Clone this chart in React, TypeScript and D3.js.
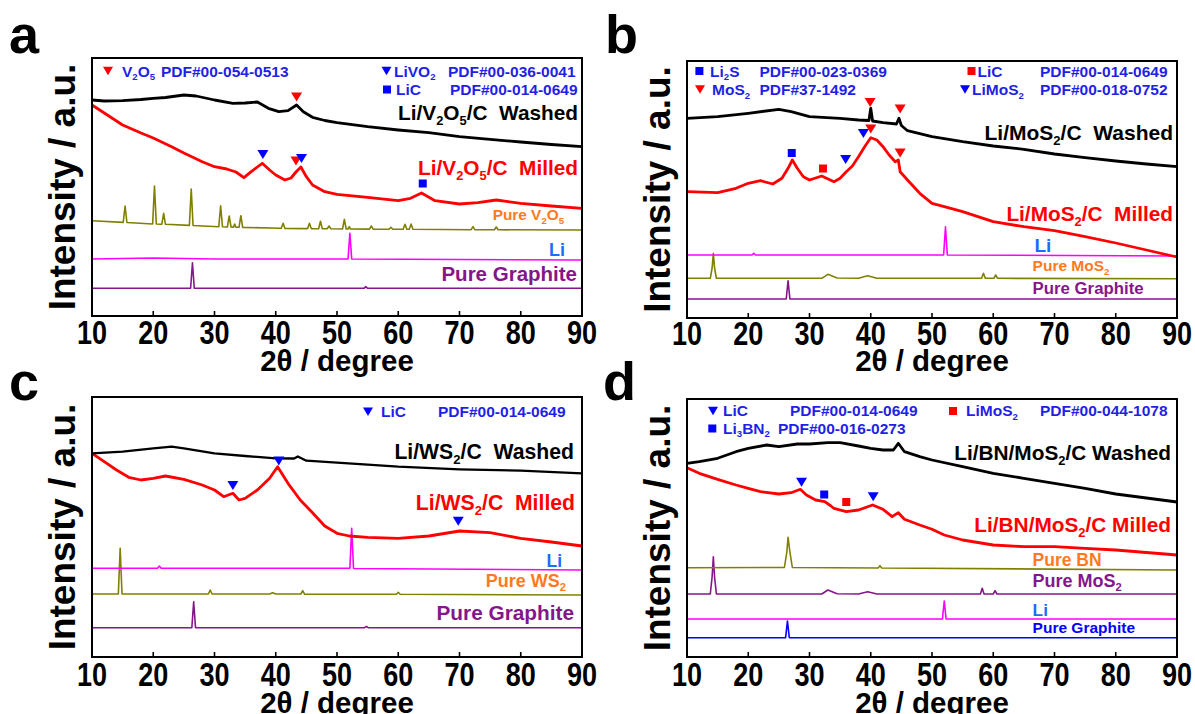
import React from 'react';
import * as d3 from 'd3';

type Pt = [number, number];

const X_TICKS = [10, 20, 30, 40, 50, 60, 70, 80, 90];

// ---------------- Panel a : Li/V2O5/C ----------------
const A_WASHED: Pt[] = [[10,216],[12,215],[15,215.3],[18,216.5],[20,217.7],[22,218.5],[25,221],[27,220],[28.5,218],[30,216],[33,212.7],[35,213],[37,214],[38.8,207.7],[40.5,204.3],[42,205.3],[43.4,211],[44.5,204.3],[46,198.7],[48,195.5],[50,193.3],[55,189.3],[60,186],[65,183.3],[70,179.3],[75,176.7],[80,174],[85,171.5],[90,169.3]];
const A_MILLED: Pt[] = [[10,211],[12,203],[15,191],[18,183],[20,178],[23,169.3],[25,163],[28,154.3],[30,149.3],[32,147],[33.5,144],[34.8,138.3],[36,144.3],[37,149],[37.8,152.7],[39,146],[40,141],[41.5,136],[42.5,138],[43.3,144],[44.1,149],[45,139.3],[46,131],[48,124.3],[50,121.7],[55,118.7],[60,115.3],[62,117.7],[63.8,123],[66,115.3],[70,112],[73,113.3],[76,116],[80,112.7],[85,110],[90,107.7]];
const A_V2O5: Pt[] = [[10,95.3],[15.1,93.6],[15.4,110],[15.7,93.5],[19.9,92],[20.2,130],[20.5,92],[21.4,91.8],[21.7,102.7],[22,91.7],[25.9,90.6],[26.2,127],[26.5,90.5],[30.7,89.3],[31,110.3],[31.3,89.2],[32.1,89],[32.4,100],[32.7,89],[33.1,88.9],[33.3,92],[33.5,88.8],[34,88.7],[34.3,100.3],[34.6,88.6],[40.9,87.7],[41.2,92.7],[41.5,87.6],[45.2,87.4],[45.5,92.7],[45.8,87.4],[47,87.3],[47.3,94.7],[47.6,87.3],[48.4,87.2],[48.7,90],[49,87.2],[50.9,87],[51.2,96.7],[51.5,87],[51.8,87],[52,89.3],[52.2,87],[55.3,86.9],[55.6,90],[55.9,86.9],[58.5,86.8],[58.8,88.7],[59.1,86.8],[60.8,86.7],[61.1,91.7],[61.4,86.7],[61.8,86.7],[62.1,92],[62.4,86.7],[71.9,86.3],[72.2,89.3],[72.5,86.3],[75.7,86.2],[76,89],[76.3,86.2],[90,86]];
const A_LI: Pt[] = [[10,57],[20,58],[30,57],[51.8,57],[52.1,82.7],[52.4,57],[70,56.5],[90,56]];
const A_GRAPHITE: Pt[] = [[10,27.7],[26.1,27.7],[26.4,53.3],[26.7,27.7],[54.4,27.7],[54.7,29.3],[55,27.7],[90,27.7]];
const A_MARKS = [
  { phase: 'V2O5', x: 43.4, y: 219 },
  { phase: 'LiVO2', x: 37.9, y: 161.5 },
  { phase: 'V2O5', x: 43.3, y: 155 },
  { phase: 'LiVO2', x: 44.2, y: 157.5 },
  { phase: 'LiC', x: 64, y: 132.5 },
];

// ---------------- Panel b : Li/MoS2/C ----------------
const B_WASHED: Pt[] = [[10,199.7],[15,201.3],[20,204.7],[25,208.7],[27,206.3],[30,201.3],[35,199.7],[38,198],[39.7,197.5],[40,209.7],[40.3,197],[42,195.3],[44.2,194],[44.6,199.7],[45,192.5],[46,187.3],[50,181.3],[55,176.3],[60,172],[65,168.7],[70,164],[75,160.3],[80,157],[85,154],[90,151.3]];
const B_MILLED: Pt[] = [[10,126.3],[15,125.3],[18,129.7],[20,134.7],[22,137.3],[24,134],[25.5,139.7],[26.5,149.7],[27.2,158],[28,149.7],[29,141.3],[30,138],[32,142],[34,136.3],[35,139.7],[36,146.3],[37,152],[38,161.3],[39,171.3],[40,180.3],[41,178],[42,171.3],[43,163],[44,156.3],[44.5,158],[44.8,146.3],[46,138],[48,124.7],[50,114.7],[52,111.3],[55,106.3],[60,96.3],[65,91.3],[70,87.3],[75,81.3],[80,75],[85,68],[90,61]];
const B_LI: Pt[] = [[10,63],[20.6,63],[20.9,64.7],[21.2,63],[51.9,63],[52.2,91.3],[52.5,63],[90,62]];
const B_MOS2: Pt[] = [[10,39.7],[13.8,39.7],[14.1,50],[14.3,64.7],[14.5,50],[14.8,39.7],[32,39.7],[33,43.7],[34.5,40],[38,39.7],[39.5,42.3],[41,39.7],[58.1,39.7],[58.4,44.7],[58.7,39.7],[60.1,39.7],[60.4,43],[60.7,39.7],[90,39.3]];
const B_GRAPHITE: Pt[] = [[10,19],[26.2,19],[26.5,37.3],[26.8,19],[90,19]];
const B_MARKS = [
  { phase: 'MoS2', x: 39.9, y: 215.5 },
  { phase: 'MoS2', x: 44.8, y: 209 },
  { phase: 'LiMoS2', x: 38.8, y: 184.5 },
  { phase: 'MoS2', x: 40.0, y: 189 },
  { phase: 'MoS2', x: 44.8, y: 165 },
  { phase: 'Li2S', x: 27.1, y: 165 },
  { phase: 'LiC', x: 32.2, y: 149.5 },
  { phase: 'LiMoS2', x: 35.9, y: 158.5 },
];

// ---------------- Panel c : Li/WS2/C ----------------
const C_WASHED: Pt[] = [[10,203.7],[15,205.3],[20,208.7],[23,210.3],[25,208.7],[30,203.7],[35,201],[40,198.7],[43,198.5],[43.6,200.5],[45,196.3],[50,194.3],[60,190.3],[70,187.7],[80,186.3],[90,183.7]];
const C_MILLED: Pt[] = [[10,203.7],[12,195.3],[14,187],[16,179.7],[18,177],[20,178.7],[22,181],[25,177.7],[28,172],[30,167],[31.5,160.3],[33,163.7],[34,157],[35,158.7],[37,167],[39,178.7],[40.3,190.3],[42,173.7],[44,157],[46,144.3],[48,131],[50,123.7],[52,121],[55,119.7],[60,118.7],[65,121],[70,126],[75,124.3],[80,118.7],[85,115],[90,111]];
const C_LI: Pt[] = [[10,88.7],[20.7,88.7],[21,91],[21.3,88.7],[52.1,88.7],[52.4,128.7],[52.7,88.5],[90,87]];
const C_WS2: Pt[] = [[10,63],[14.3,63],[14.6,108.7],[14.9,63],[29,63],[29.3,67],[29.6,63],[39,63],[39.5,64.3],[40,63],[44.1,63],[44.4,66.3],[44.7,62.8],[59.7,62.7],[60,64.7],[60.3,62.7],[90,62]];
const C_GRAPHITE: Pt[] = [[10,29.3],[26.3,29.3],[26.6,55.3],[26.9,29.3],[54.5,29.3],[54.8,30.5],[55.1,29.3],[90,29.3]];
const C_MARKS = [
  { phase: 'LiC', x: 40.5, y: 196 },
  { phase: 'LiC', x: 33.0, y: 171.5 },
  { phase: 'LiC', x: 69.8, y: 135.7 },
];

// ---------------- Panel d : Li/BN/MoS2/C ----------------
const D_WASHED: Pt[] = [[10,193.7],[12,195.3],[15,198.7],[18,205.3],[20,208.7],[23,212],[25,210.3],[28,213],[30,213],[33,214.3],[35,214.3],[38,211],[40,208.7],[42,207],[43.7,207],[44.5,213.7],[45.5,205.3],[48,200.3],[50,197],[55,190.3],[60,183.7],[65,178.7],[70,173.7],[75,168.7],[80,163],[85,159],[90,155]];
const D_MILLED: Pt[] = [[10,189.3],[12,183.7],[15,177.7],[18,172],[20,168.7],[22,165.3],[25,163],[27,164.3],[28.5,167.7],[29.5,162],[31,157],[32.5,155.3],[33.5,151],[34,148.7],[36,145.3],[38,147],[40.3,152],[42,147.7],[43.5,140.3],[44.5,144.3],[45.5,137.7],[48,132],[50,127.7],[52,122],[55,117],[60,112],[65,110.3],[70,110.3],[75,108.7],[80,107],[85,104.5],[90,102]];
const D_BN: Pt[] = [[10,89.3],[25.9,89.5],[26.3,105],[26.5,119.7],[26.8,105],[27.2,89.5],[41.2,89],[41.5,91.3],[41.8,89],[90,87]];
const D_MOS2: Pt[] = [[10,63],[13.8,63],[14.1,80],[14.3,100.3],[14.5,80],[14.8,63],[32,63],[33,67],[34.5,63.3],[38,63],[39.5,65.3],[41,63],[57.9,63],[58.2,68.7],[58.5,63],[60,63],[60.3,66.3],[60.6,63],[90,63]];
const D_LI: Pt[] = [[10,38],[51.7,38],[52,56],[52.3,38],[90,38]];
const D_GRAPHITE: Pt[] = [[10,19.3],[26.1,19.3],[26.4,36],[26.7,19.3],[90,19.3]];
const D_MARKS = [
  { phase: 'LiC', x: 28.7, y: 174.7 },
  { phase: 'Li3BN2', x: 32.4, y: 162.5 },
  { phase: 'LiMoS2', x: 36.0, y: 155 },
  { phase: 'LiC', x: 40.4, y: 160.2 },
];

// ---------------- styles ----------------
const RED = '#ff0000';
const BLUE = '#0000ff';
const LEG_BLUE = '#1f1fe8';
const LI_BLUE = '#1e6bff';
const ORANGE = '#ff7a1f';
const PURPLE = '#85168a';
const OLIVE = '#808000';
const MAGENTA = '#ff00ff';
const FONT = '"Liberation Sans", Arial, Helvetica, sans-serif';

type Shape = 'tri' | 'sq';
interface SeriesDef { data: Pt[]; color: string; width: number }
interface LabelDef { t: string; x: number; y: number; s: number; c: string; a: 'start' | 'end' }
interface LegendDef { shape: Shape; color: string; mx: number; my: number; name: string; nx: number; pdf: string; px: number; by: number }
interface PanelDef {
  letter: string; lx: number; ly: number;
  x0: number; x1: number; y0: number; y1: number; yMax: number;
  tickY: number; titleY: number;
  series: SeriesDef[];
  marks: { phase: string; x: number; y: number }[];
  phaseStyle: Record<string, { shape: Shape; color: string }>;
  legend: LegendDef[];
  labels: LabelDef[];
}

const PANELS: PanelDef[] = [
  {
    letter: 'a', lx: 9, ly: 53, x0: 92, x1: 582, y0: 58, y1: 316, yMax: 258, tickY: 344, titleY: 371,
    series: [
      { data: A_GRAPHITE, color: PURPLE, width: 1.6 },
      { data: A_LI, color: MAGENTA, width: 1.6 },
      { data: A_V2O5, color: OLIVE, width: 1.6 },
      { data: A_MILLED, color: RED, width: 2.8 },
      { data: A_WASHED, color: '#000', width: 2.8 },
    ],
    marks: A_MARKS,
    phaseStyle: { V2O5: { shape: 'tri', color: RED }, LiVO2: { shape: 'tri', color: BLUE }, LiC: { shape: 'sq', color: BLUE } },
    legend: [
      { shape: 'tri', color: RED, mx: 108, my: 71, name: 'V_2O_5', nx: 122, pdf: 'PDF#00-054-0513', px: 161, by: 76.5 },
      { shape: 'tri', color: BLUE, mx: 386.5, my: 71, name: 'LiVO_2', nx: 394, pdf: 'PDF#00-036-0041', px: 448, by: 76.5 },
      { shape: 'sq', color: BLUE, mx: 387, my: 89.5, name: 'LiC', nx: 396, pdf: 'PDF#00-014-0649', px: 450, by: 95 },
    ],
    labels: [
      { t: 'Li/V_2O_5/C  Washed', x: 578, y: 120, s: 20.8, c: '#000', a: 'end' },
      { t: 'Li/V_2O_5/C  Milled', x: 578, y: 175, s: 20.8, c: RED, a: 'end' },
      { t: 'Pure V_2O_5', x: 564, y: 220, s: 15.4, c: ORANGE, a: 'end' },
      { t: 'Li', x: 565, y: 256, s: 18, c: LI_BLUE, a: 'end' },
      { t: 'Pure Graphite', x: 577, y: 281, s: 20.5, c: PURPLE, a: 'end' },
    ],
  },
  {
    letter: 'b', lx: 605, ly: 53, x0: 687, x1: 1177, y0: 61, y1: 318, yMax: 257, tickY: 345, titleY: 371,
    series: [
      { data: B_GRAPHITE, color: PURPLE, width: 1.6 },
      { data: B_MOS2, color: OLIVE, width: 1.6 },
      { data: B_LI, color: MAGENTA, width: 1.6 },
      { data: B_MILLED, color: RED, width: 2.8 },
      { data: B_WASHED, color: '#000', width: 2.8 },
    ],
    marks: B_MARKS,
    phaseStyle: { Li2S: { shape: 'sq', color: BLUE }, MoS2: { shape: 'tri', color: RED }, LiC: { shape: 'sq', color: RED }, LiMoS2: { shape: 'tri', color: BLUE } },
    legend: [
      { shape: 'sq', color: BLUE, mx: 699.4, my: 71, name: 'Li_2S', nx: 710, pdf: 'PDF#00-023-0369', px: 759.4, by: 76.5 },
      { shape: 'sq', color: RED, mx: 971.5, my: 71, name: 'LiC', nx: 977.6, pdf: 'PDF#00-014-0649', px: 1040, by: 76.5 },
      { shape: 'tri', color: RED, mx: 700, my: 89.5, name: 'MoS_2', nx: 712, pdf: 'PDF#37-1492', px: 759.4, by: 95 },
      { shape: 'tri', color: BLUE, mx: 965, my: 89.5, name: 'LiMoS_2', nx: 972, pdf: 'PDF#00-018-0752', px: 1040, by: 95 },
    ],
    labels: [
      { t: 'Li/MoS_2/C  Washed', x: 1173, y: 140, s: 21, c: '#000', a: 'end' },
      { t: 'Li/MoS_2/C  Milled', x: 1173, y: 221, s: 20.8, c: RED, a: 'end' },
      { t: 'Li', x: 1034.5, y: 252, s: 19, c: LI_BLUE, a: 'start' },
      { t: 'Pure MoS_2', x: 1032.6, y: 271, s: 15.5, c: ORANGE, a: 'start' },
      { t: 'Pure Graphite', x: 1032.6, y: 294, s: 16.8, c: PURPLE, a: 'start' },
    ],
  },
  {
    letter: 'c', lx: 9, ly: 400, x0: 92, x1: 582, y0: 397, y1: 657, yMax: 260, tickY: 686, titleY: 713,
    series: [
      { data: C_GRAPHITE, color: PURPLE, width: 1.6 },
      { data: C_WS2, color: OLIVE, width: 1.6 },
      { data: C_LI, color: MAGENTA, width: 1.6 },
      { data: C_MILLED, color: RED, width: 2.8 },
      { data: C_WASHED, color: '#000', width: 2.3 },
    ],
    marks: C_MARKS,
    phaseStyle: { LiC: { shape: 'tri', color: BLUE } },
    legend: [
      { shape: 'tri', color: BLUE, mx: 368, my: 411.7, name: 'LiC', nx: 381, pdf: 'PDF#00-014-0649', px: 438, by: 417 },
    ],
    labels: [
      { t: 'Li/WS_2/C  Washed', x: 574, y: 459, s: 21.2, c: '#000', a: 'end' },
      { t: 'Li/WS_2/C  Milled', x: 575, y: 510, s: 21.2, c: RED, a: 'end' },
      { t: 'Li', x: 562, y: 567, s: 17.5, c: LI_BLUE, a: 'end' },
      { t: 'Pure WS_2', x: 566, y: 587, s: 18, c: ORANGE, a: 'end' },
      { t: 'Pure Graphite', x: 574, y: 620, s: 20.8, c: PURPLE, a: 'end' },
    ],
  },
  {
    letter: 'd', lx: 603, ly: 400, x0: 687, x1: 1177, y0: 399, y1: 657, yMax: 258, tickY: 686, titleY: 713,
    series: [
      { data: D_GRAPHITE, color: BLUE, width: 1.6 },
      { data: D_LI, color: MAGENTA, width: 1.6 },
      { data: D_MOS2, color: PURPLE, width: 1.6 },
      { data: D_BN, color: OLIVE, width: 1.6 },
      { data: D_MILLED, color: RED, width: 2.8 },
      { data: D_WASHED, color: '#000', width: 2.8 },
    ],
    marks: D_MARKS,
    phaseStyle: { LiC: { shape: 'tri', color: BLUE }, LiMoS2: { shape: 'sq', color: RED }, Li3BN2: { shape: 'sq', color: BLUE } },
    legend: [
      { shape: 'tri', color: BLUE, mx: 713, my: 411, name: 'LiC', nx: 723, pdf: 'PDF#00-014-0649', px: 790, by: 416 },
      { shape: 'sq', color: RED, mx: 953, my: 411, name: 'LiMoS_2', nx: 966, pdf: 'PDF#00-044-1078', px: 1040, by: 416 },
      { shape: 'sq', color: BLUE, mx: 712.3, my: 428.5, name: 'Li_3BN_2', nx: 723, pdf: 'PDF#00-016-0273', px: 778, by: 433.5 },
    ],
    labels: [
      { t: 'Li/BN/MoS_2/C Washed', x: 1171, y: 460, s: 20.8, c: '#000', a: 'end' },
      { t: 'Li/BN/MoS_2/C Milled', x: 1171, y: 532, s: 20.8, c: RED, a: 'end' },
      { t: 'Pure BN', x: 1032.6, y: 566, s: 17.5, c: ORANGE, a: 'start' },
      { t: 'Pure MoS_2', x: 1032.6, y: 587, s: 18, c: PURPLE, a: 'start' },
      { t: 'Li', x: 1032.6, y: 616, s: 17.3, c: LI_BLUE, a: 'start' },
      { t: 'Pure Graphite', x: 1032.6, y: 633, s: 15.5, c: BLUE, a: 'start' },
    ],
  },
];

function rich(text: string, size: number) {
  const segs: { t: string; sub: boolean }[] = [];
  let i = 0;
  while (i < text.length) {
    if (text[i] === '_') { segs.push({ t: text[i + 1], sub: true }); i += 2; }
    else {
      let j = i;
      while (j < text.length && text[j] !== '_') j++;
      segs.push({ t: text.slice(i, j), sub: false });
      i = j;
    }
  }
  const shift = size * 0.24;
  let cur = 0;
  return segs.map((s, k) => {
    const target = s.sub ? shift : 0;
    const dy = target - cur;
    cur = target;
    return (
      <tspan key={k} dy={dy} fontSize={s.sub ? size * 0.62 : size}>{s.t}</tspan>
    );
  });
}

function Marker({ shape, color, cx, cy, w, h }: { shape: Shape; color: string; cx: number; cy: number; w: number; h: number }) {
  if (shape === 'tri') {
    const p = d3.path();
    p.moveTo(cx - w / 2, cy - h / 2);
    p.lineTo(cx + w / 2, cy - h / 2);
    p.lineTo(cx, cy + h / 2);
    p.closePath();
    return <path d={p.toString()} fill={color} />;
  }
  return <rect x={cx - w / 2} y={cy - w / 2} width={w} height={w} fill={color} />;
}

function Panel({ p }: { p: PanelDef }) {
  const x = d3.scaleLinear().domain([10, 90]).range([p.x0, p.x1]);
  const y = d3.scaleLinear().domain([0, p.yMax]).range([p.y1, p.y0]);
  const line = d3.line<Pt>().x(d => x(d[0])).y(d => y(d[1]));
  const cx = (p.x0 + p.x1) / 2;
  const cy = (p.y0 + p.y1) / 2;
  return (
    <g fontFamily={FONT} fontWeight="bold">
      <text x={p.lx} y={p.ly} fontSize={54} fill="#000">{p.letter}</text>
      <g>
        {p.series.map((s, i) => (
          <path key={i} d={line(s.data) || ''} fill="none" stroke={s.color} strokeWidth={s.width} strokeLinejoin="round" />
        ))}
      </g>
      {p.marks.map((m, i) => {
        const st = p.phaseStyle[m.phase];
        return <Marker key={i} shape={st.shape} color={st.color} cx={x(m.x)} cy={y(m.y)} w={st.shape === 'tri' ? 11 : 8} h={9} />;
      })}
      {p.legend.map((l, i) => (
        <g key={i}>
          <Marker shape={l.shape} color={l.color} cx={l.mx} cy={l.my} w={l.shape === 'tri' ? 10 : 8} h={8.5} />
          <text x={l.nx} y={l.by} fontSize={15.5} fill={LEG_BLUE} style={{ whiteSpace: 'pre' }}>{rich(l.name, 15.5)}</text>
          <text x={l.px} y={l.by} fontSize={15.5} fill={LEG_BLUE}>{l.pdf}</text>
        </g>
      ))}
      {p.labels.map((l, i) => (
        <text key={i} x={l.x} y={l.y} fontSize={l.s} fill={l.c} textAnchor={l.a} style={{ whiteSpace: 'pre' }}>{rich(l.t, l.s)}</text>
      ))}
      <rect x={p.x0} y={p.y0} width={p.x1 - p.x0} height={p.y1 - p.y0} fill="none" stroke="#000" strokeWidth={2} />
      {X_TICKS.map(t => (
        <g key={t}>
          <line x1={x(t)} x2={x(t)} y1={p.y1} y2={p.y1 - 5} stroke="#000" strokeWidth={1.6} />
          <text transform={`translate(${x(t)},${p.tickY}) scale(0.82,1)`} textAnchor="middle" fontSize={33} fill="#000">{t}</text>
        </g>
      ))}
      <text x={cx} y={p.titleY} textAnchor="middle" fontSize={29.5} fill="#000">2θ / degree</text>
      <text transform={`translate(${p.x0 - 17},${cy}) rotate(-90)`} textAnchor="middle" fontSize={37} fill="#000">Intensity / a.u.</text>
    </g>
  );
}

export default function App() {
  return (
    <svg width={1195} height={714} viewBox="0 0 1195 714" style={{ position: 'absolute', left: 0, top: 0, background: '#fff' }}>
      <rect x={0} y={0} width={1195} height={714} fill="#fff" />
      {PANELS.map(p => <Panel key={p.letter} p={p} />)}
    </svg>
  );
}
